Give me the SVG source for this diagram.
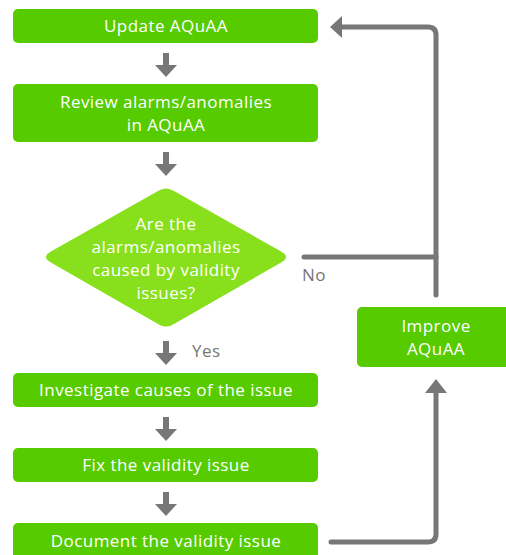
<svg xmlns="http://www.w3.org/2000/svg" width="506" height="555" viewBox="0 0 506 555">
  <defs>
    <style>
      .box { fill: #56cc00; }
      .dia { fill: #88e01c; }
      .lbl { font-family: "Open Sans", "DejaVu Sans", sans-serif; font-size: 17px; letter-spacing: 0.45px; fill: #ffffff; text-anchor: middle; }
      .note { font-family: "Open Sans", "DejaVu Sans", sans-serif; font-size: 17px; letter-spacing: 0.45px; fill: #777777; }
      .wire { fill: none; stroke: #777777; stroke-width: 5; stroke-linecap: round; stroke-linejoin: round; }
      .arr { fill: #777777; }
    </style>
    <!-- short downward block arrow between steps -->
    <path id="down" d="M-3,0 H3 V12 H11 L0,24 L-11,12 H-3 Z"/>
  </defs>

  <g id="connectors">
    <use href="#down" class="arr" x="166" y="53"/>
    <use href="#down" class="arr" x="166" y="152"/>
    <use href="#down" class="arr" x="166" y="341"/>
    <use href="#down" class="arr" x="166" y="417"/>
    <use href="#down" class="arr" x="166" y="492"/>
    <!-- "No" branch back up to the top step -->
    <path class="wire" d="M304,257 H436"/>
    <path class="wire" d="M436,295 V35 Q436,27 428,27 H340"/>
    <path class="arr" d="M330,27 L342,16 V38 Z"/>
    <!-- documentation feeds the improvement step -->
    <path class="wire" d="M331,542 H428 Q436,542 436,534 V392"/>
    <path class="arr" d="M436,379 L447,393 H425 Z"/>
    <text class="note" x="302" y="281">No</text>
    <text class="note" x="192" y="357">Yes</text>
  </g>

  <g id="update">
    <rect class="box" x="13" y="9" width="305" height="34" rx="5"/>
    <text class="lbl" x="166" y="32">Update AQuAA</text>
  </g>

  <g id="review">
    <rect class="box" x="13" y="84" width="305" height="58" rx="5"/>
    <text class="lbl" x="166" y="108">Review alarms/anomalies</text>
    <text class="lbl" x="166" y="131">in AQuAA</text>
  </g>

  <g id="decision">
    <path class="dia" d="M158,191 Q166,186 174,191 L282,252 Q290,257 282,262 L174,324 Q166,329 158,324 L50,262 Q42,257 50,252 Z"/>
    <text class="lbl" x="166" y="230">Are the</text>
    <text class="lbl" x="166" y="253">alarms/anomalies</text>
    <text class="lbl" x="166" y="276">caused by validity</text>
    <text class="lbl" x="166" y="299">issues?</text>
  </g>

  <g id="improve">
    <rect class="box" x="357" y="307" width="160" height="60" rx="5"/>
    <text class="lbl" x="436" y="332">Improve</text>
    <text class="lbl" x="436" y="355">AQuAA</text>
  </g>

  <g id="investigate">
    <rect class="box" x="13" y="373" width="305" height="34" rx="5"/>
    <text class="lbl" x="166" y="396">Investigate causes of the issue</text>
  </g>

  <g id="fix">
    <rect class="box" x="13" y="448" width="305" height="34" rx="5"/>
    <text class="lbl" x="166" y="471">Fix the validity issue</text>
  </g>

  <g id="document">
    <rect class="box" x="13" y="523" width="305" height="40" rx="5"/>
    <text class="lbl" x="166" y="547">Document the validity issue</text>
  </g>
</svg>
